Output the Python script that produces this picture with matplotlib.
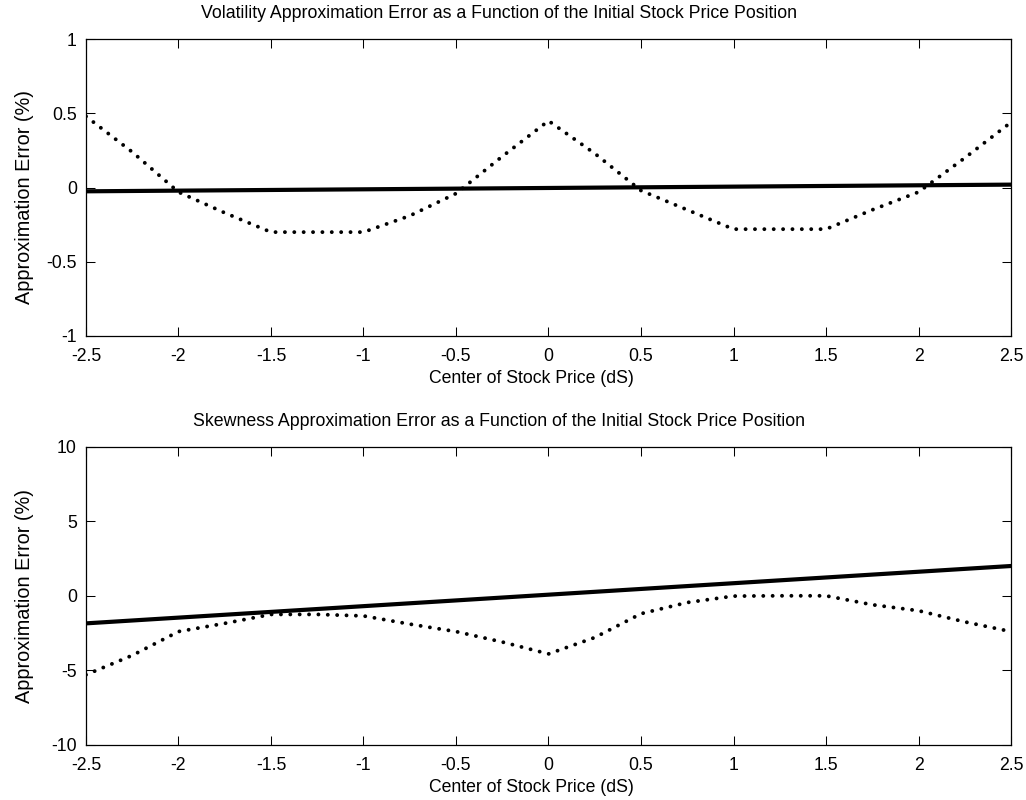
import matplotlib
matplotlib.use("Agg")
import matplotlib.pyplot as plt
from matplotlib.ticker import FormatStrFormatter

plt.rcParams['font.family'] = ['Liberation Sans', 'DejaVu Sans']
plt.rcParams['axes.unicode_minus'] = False

x_pos = [-2.5, -2.25, -2.0, -1.75, -1.5, -1.25, -1.0, -0.75, -0.5, -0.25, 0.0,
         0.25, 0.5, 0.75, 1.0, 1.25, 1.5, 1.75, 2.0, 2.25, 2.5]

vol_dotted = [0.48, 0.24, -0.03, -0.17, -0.30, -0.30, -0.30, -0.19, -0.04, 0.21, 0.45,
              0.23, -0.02, -0.15, -0.28, -0.28, -0.28, -0.15, -0.03, 0.20, 0.44]
vol_solid_x = [-2.5, 2.5]
vol_solid = [-0.025, 0.02]

skew_dotted = [-5.3, -4.0, -2.4, -1.85, -1.25, -1.25, -1.35, -1.9, -2.4, -3.1, -3.9,
               -2.8, -1.2, -0.45, -0.02, 0.0, 0.0, -0.6, -1.0, -1.75, -2.4]
skew_solid_x = [-2.5, 2.5]
skew_solid = [-1.85, 2.0]

xticks = [-2.5, -2, -1.5, -1, -0.5, 0, 0.5, 1, 1.5, 2, 2.5]

fig = plt.figure(figsize=(10.26, 8.0), dpi=100)
ax1 = fig.add_axes([0.0838, 0.58, 0.9016, 0.371])
ax2 = fig.add_axes([0.0838, 0.069, 0.9016, 0.3725])

panels = [
    (ax1, vol_solid_x, vol_solid, vol_dotted, (-1, 1), [-1, -0.5, 0, 0.5, 1],
     "Volatility Approximation Error as a Function of the Initial Stock Price Position", 0.47),
    (ax2, skew_solid_x, skew_solid, skew_dotted, (-10, 10), [-10, -5, 0, 5, 10],
     "Skewness Approximation Error as a Function of the Initial Stock Price Position", 0.5),
]

for ax, sx, sy, dy, ylim, yticks, title, ylab_y in panels:
    ax.plot(x_pos, dy, color='black', linewidth=2.8, linestyle=(0, (0.01, 2.4)),
            dash_capstyle='round')
    ax.plot(sx, sy, color='black', linewidth=3.0)
    ax.set_xlim(-2.5, 2.5)
    ax.set_ylim(*ylim)
    ax.set_xticks(xticks)
    ax.set_yticks(yticks)
    ax.xaxis.set_major_formatter(FormatStrFormatter('%g'))
    ax.yaxis.set_major_formatter(FormatStrFormatter('%g'))
    ax.tick_params(direction='in', length=6.5, width=0.75, top=True, right=True,
                   labelsize=12.7)
    ax.tick_params(axis='x', pad=8.5)
    ax.tick_params(axis='y', pad=6.5)
    for sp in ax.spines.values():
        sp.set_linewidth(0.9)
    ax.set_title(title, fontsize=12.8, pad=15, x=0.447)
    ax.set_xlabel("Center of Stock Price (dS)", fontsize=12.7, labelpad=4, x=0.482)
    ax.set_ylabel("Approximation Error (%)", fontsize=14.3)
    ax.yaxis.set_label_coords(-0.056, ylab_y)

fig.savefig("out.png", dpi=100)
